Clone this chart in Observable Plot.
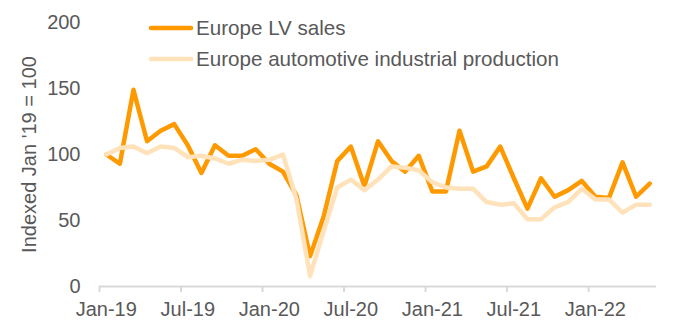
<!DOCTYPE html>
<html><head><meta charset="utf-8">
<script src="https://cdn.jsdelivr.net/npm/d3@7"></script>
<script src="https://cdn.jsdelivr.net/npm/@observablehq/plot@0.6"></script>
<style>
html,body{margin:0;padding:0;background:#fff;}
#wrap{position:relative;width:679px;height:325px;font-family:"Liberation Sans",Arial,sans-serif;}
#legend{position:absolute;left:0;top:0;}
</style></head><body><div id="wrap"></div>
<script>
const months = ["Jan-19","Feb-19","Mar-19","Apr-19","May-19","Jun-19","Jul-19","Aug-19","Sep-19","Oct-19","Nov-19","Dec-19",
  "Jan-20","Feb-20","Mar-20","Apr-20","May-20","Jun-20","Jul-20","Aug-20","Sep-20","Oct-20","Nov-20","Dec-20",
  "Jan-21","Feb-21","Mar-21","Apr-21","May-21","Jun-21","Jul-21","Aug-21","Sep-21","Oct-21","Nov-21","Dec-21",
  "Jan-22","Feb-22","Mar-22","Apr-22","May-22"];
const lvSales = [100, 93, 149, 110, 118, 123, 107, 86, 107, 99, 99, 104,
  93, 87, 69, 23, 53, 95, 106, 76, 110, 95, 87, 99,
  72, 72, 118, 87, 91, 106, 82, 59, 82, 68, 73, 80,
  68, 67, 94, 68, 78];
const production = [100, 105, 106, 101, 106, 105, 98, 99, 97, 93, 96, 95,
  96, 100, 66, 8, 42, 75, 81, 73, 81, 91, 90, 88,
  79, 75, 74, 74, 64, 62, 63, 51, 51, 60, 64, 74,
  66, 66, 56, 62, 62];
const tickLabels = ["Jan-19","Jul-19","Jan-20","Jul-20","Jan-21","Jul-21","Jan-22"];
const yTicks = [0, 50, 100, 150, 200];
const seriesNames = ["Europe LV sales", "Europe automotive industrial production"];
const seriesColors = ["#FF9900", "#FFE2BA"];
const yTitle = "Indexed Jan '19 = 100";

const rows = months.flatMap((m, i) => [
  {i, month: m, value: lvSales[i], series: seriesNames[0]},
  {i, month: m, value: production[i], series: seriesNames[1]}
]);
const tickIdx = tickLabels.map(t => months.indexOf(t));

const chart = Plot.plot({
  width: 679, height: 325,
  marginLeft: 99, marginRight: 23, marginTop: 22, marginBottom: 39,
  style: {fontFamily: '"Liberation Sans", Arial, sans-serif', fontSize: "20px", color: "#595959", background: "#fff"},
  x: {type: "linear", domain: [-0.5, months.length - 0.5]},
  y: {domain: [0, 200]},
  color: {domain: seriesNames, range: seriesColors},
  marks: [
    Plot.ruleY([0], {stroke: "#D9D9D9", strokeWidth: 2}),
    Plot.axisX(tickIdx.map(i => i - 0.5), {tickSize: 6, tickFormat: () => "", stroke: "#D9D9D9", strokeWidth: 2, label: null}),
    Plot.axisX(tickIdx, {tickSize: 0, tickPadding: 15, tickFormat: i => months[i], fontSize: 20, label: null}),
    Plot.axisY(yTicks, {tickSize: 0, tickPadding: 19, fontSize: 20, label: yTitle, labelAnchor: "center", labelArrow: false, labelOffset: 78}),
    Plot.line(rows.filter(d => d.series === seriesNames[0]), {x: "i", y: "value", stroke: "series", strokeWidth: 4.5, strokeLinejoin: "round", strokeLinecap: "round"}),
    Plot.line(rows.filter(d => d.series === seriesNames[1]), {x: "i", y: "value", stroke: "series", strokeWidth: 4.5, strokeLinejoin: "round", strokeLinecap: "round"})
  ]
});
const wrap = document.getElementById("wrap");
wrap.appendChild(chart);

// legend overlay
const ns = "http://www.w3.org/2000/svg";
const leg = document.createElementNS(ns, "svg");
leg.setAttribute("id", "legend");
leg.setAttribute("width", 679);
leg.setAttribute("height", 80);
seriesNames.forEach((name, k) => {
  const cy = 28 + k * 31;
  const ln = document.createElementNS(ns, "line");
  ln.setAttribute("x1", 151); ln.setAttribute("x2", 191);
  ln.setAttribute("y1", cy); ln.setAttribute("y2", cy);
  ln.setAttribute("stroke", seriesColors[k]);
  ln.setAttribute("stroke-width", 4.5);
  ln.setAttribute("stroke-linecap", "round");
  leg.appendChild(ln);
  const tx = document.createElementNS(ns, "text");
  tx.setAttribute("x", 196); tx.setAttribute("y", cy);
  tx.setAttribute("dy", "0.35em");
  tx.setAttribute("fill", "#595959");
  tx.setAttribute("font-size", 20.6);
  tx.setAttribute("font-family", '"Liberation Sans", Arial, sans-serif');
  tx.textContent = name;
  leg.appendChild(tx);
});
wrap.appendChild(leg);
</script>
</body></html>
